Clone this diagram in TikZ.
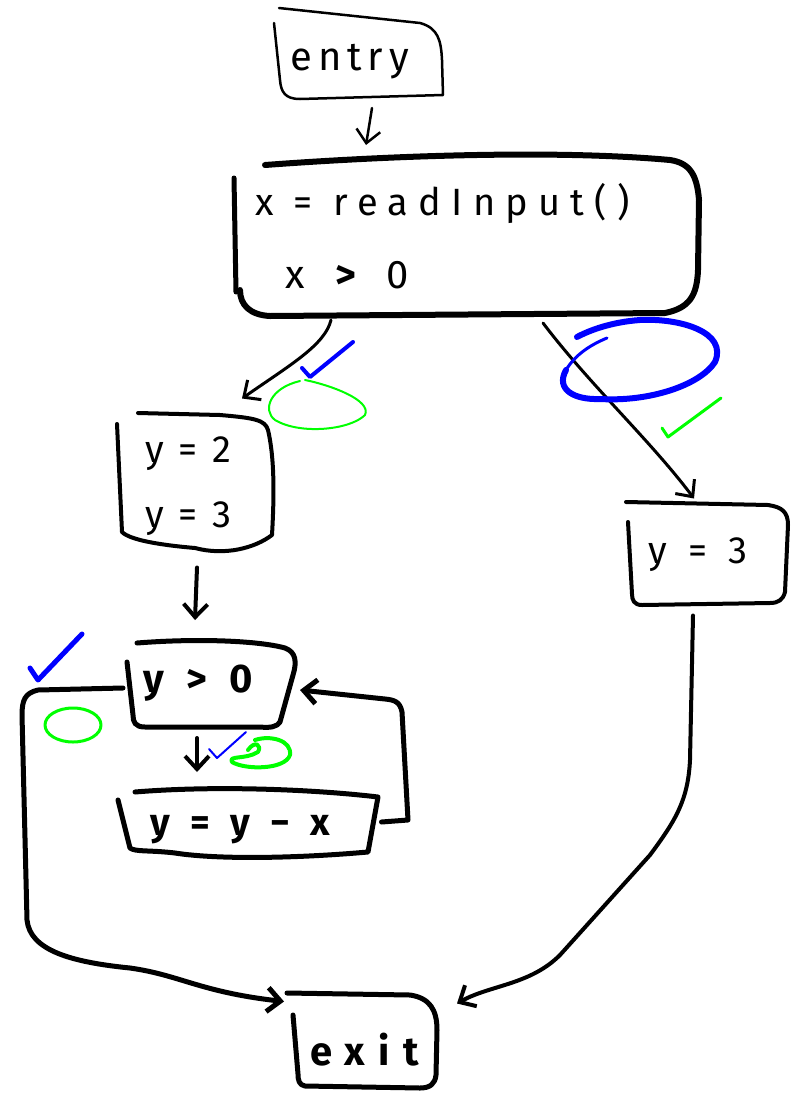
\documentclass[tikz,border=0pt]{standalone}
\usepackage{fontspec}
\setmainfont{Fira Sans}
\usetikzlibrary{arrows.meta}
\tikzset{
  pen/.style={draw=black, line width=#1},
  area/.style={draw=none, inner sep=0pt, outer sep=0pt, minimum width=#1},
  hand/.style={inner sep=0pt, anchor=base west, font=\fontsize{#1}{#1}\selectfont},
  conn/.style={draw=black, line width=#1, -{Straight Barb[length=13pt,width=24pt,line width=#1]}},
  ok/.style={draw=blue, line width=#1},
  mark/.style={draw=green, line width=#1},
}
\begin{document}
\begin{tikzpicture}[x=1pt, y=-1pt, line cap=round, line join=round]
\useasboundingbox (0,0) rectangle (792,1098);

% ---- block areas (anchors for the connectors)
\node[area=168, minimum height=92]  (entry) at (359,54)  {};
\node[area=468, minimum height=158] (cond)  at (466,239) {};
\node[area=160, minimum height=135] (thenb) at (195,478) {};
\node[area=162, minimum height=103] (elseb) at (709,554) {};
\node[area=170, minimum height=88]  (loop)  at (212,684) {};
\node[area=263, minimum height=68]  (body)  at (248,824) {};
\node[area=150, minimum height=97]  (exit)  at (365,1042) {};

% ---- hand-drawn outlines
\draw[pen=2.5] (279,8) -- (420,23) .. controls (438,28) and (441,40) .. (442,60)
  -- (443,95) -- (300,99) .. controls (285,99) and (281,92) .. (280,80) -- (274,23);

\draw[pen=6] (265,165) .. controls (400,155) and (560,150) .. (670,160)
  .. controls (690,163) and (697,175) .. (699,200) -- (698,270)
  .. controls (697,295) and (690,308) .. (665,313) -- (270,316)
  .. controls (250,315) and (240,305) .. (240,290);
\draw[pen=5] (234,178) -- (236,292);

\draw[pen=4] (138,413) -- (220,415) .. controls (255,418) and (265,420) .. (268,430)
  .. controls (275,460) and (274,500) .. (272,535)
  .. controls (255,548) and (225,556) .. (195,548)
  .. controls (160,545) and (130,540) .. (122,532) -- (117,424);

\draw[pen=4] (626,502) -- (768,505) .. controls (782,507) and (788,512) .. (788,525)
  -- (785,592) .. controls (783,600) and (778,603) .. (770,603) -- (642,605)
  .. controls (634,605) and (632,600) .. (632,594) -- (628,522);

\draw[pen=5] (137,643) .. controls (200,638) and (260,641) .. (285,648)
  .. controls (296,652) and (297,662) .. (293,675) -- (280,722)
  .. controls (277,727) and (270,728) .. (260,727) -- (145,727)
  .. controls (135,727) and (133,722) .. (133,715) -- (127,662);

\draw[pen=5] (135,792) .. controls (220,785) and (320,790) .. (378,797)
  -- (368,852) .. controls (300,858) and (220,860) .. (175,853)
  .. controls (150,850) and (135,852) .. (130,848) -- (118,800);

\draw[pen=5] (287,993) -- (410,995) .. controls (430,998) and (437,1010) .. (437,1030)
  -- (436,1075) .. controls (435,1084) and (430,1088) .. (420,1088) -- (305,1086)
  .. controls (299,1085) and (298,1080) .. (298,1074) -- (293,1015);

% ---- texts
\node[hand=40] (tEntry) at (290,70) {\addfontfeature{LetterSpace=15}entry};
\node[hand=38] (tRead)  at (255,215) {\addfontfeature{LetterSpace=27}x = readInput()};
\node[hand=40] (tTest)  at (285,288) {\addfontfeature{LetterSpace=25}x \textbf{>} 0};
\node[hand=38] (tY2)    at (145,462) {\addfontfeature{LetterSpace=12}y = 2};
\node[hand=38] (tY3)    at (145,527) {\addfontfeature{LetterSpace=12}y = 3};
\node[hand=38] (tY3b)   at (648,563) {\addfontfeature{LetterSpace=30}y = 3};
\node[hand=40] (tLoop)  at (143,692) {\bfseries\addfontfeature{LetterSpace=32}y > 0};
\node[hand=38] (tBody)  at (150,835) {\bfseries\addfontfeature{LetterSpace=30}y = y − x};
\node[hand=40] (tExit)  at (310,1065) {\bfseries\addfontfeature{LetterSpace=33}exit};

% ---- connectors
\draw[conn=2.5] ([shift={(13,8)}]entry.south) -- ([shift={(-100,-15)}]cond.north);
\draw[conn=3] ([shift={(-135,2)}]cond.south) .. controls (325,345) and (290,365)
  .. ([shift={(47,-12)}]thenb.north);
\draw[conn=3] ([shift={(77,5)}]cond.south) .. controls (590,385) and (650,440)
  .. ([shift={(-15,-4)}]elseb.north);
\draw[conn=4] ([shift={(2,22)}]thenb.south) -- ([shift={(-17,-20)}]loop.north);
\draw[conn=4] ([shift={(-15,10)}]loop.south) -- ([shift={(-51,-18)}]body.north);
\draw[conn=5] ([shift={(2,-2)}]body.east) -- (408,820) -- (402,712)
  .. controls (400,702) and (395,700) .. (385,699) -- ([shift={(3,6)}]loop.east);
\draw[conn=5] ([shift={(-4,4)}]loop.west) -- (38,690)
  .. controls (25,693) and (22,700) .. (22,715) -- (27,920)
  .. controls (30,950) and (70,962) .. (130,968)
  .. controls (180,975) and (200,992) .. ([shift={(-6,8)}]exit.north west);
\draw[conn=4] ([shift={(-16,10)}]elseb.south) -- (690,760)
  .. controls (688,800) and (676,820) .. (650,855)
  -- (560,955) .. controls (530,985) and (490,985) .. ([shift={(17,10)}]exit.north east);

% ---- review marks
\draw[ok=4] (302,368) -- (310,377) -- (353,342);
\draw[mark=2] (300,381) .. controls (270,388) and (262,410) .. (275,420)
  .. controls (300,435) and (350,430) .. (365,415)
  .. controls (372,400) and (330,385) .. (305,380);
\draw[ok=3] (607,338) .. controls (590,345) and (575,355) .. (566,370);
\draw[ok=6] (566,370) .. controls (555,390) and (575,400) .. (600,399)
  .. controls (650,402) and (700,385) .. (715,362)
  .. controls (728,332) and (680,318) .. (640,320)
  .. controls (612,322) and (590,330) .. (577,337);
\draw[mark=3] (662,428) -- (668,437) -- (721,398);
\draw[ok=5] (30,668) -- (38,680) -- (82,634);
\draw[mark=3] (73,725) ellipse[x radius=28, y radius=17];
\draw[ok=2] (209,749) -- (217,758) -- (246,732);
\draw[mark=4] (248,750) .. controls (255,740) and (262,745) .. (258,752)
  .. controls (245,760) and (228,755) .. (232,762)
  .. controls (245,770) and (285,770) .. (290,755)
  .. controls (292,740) and (270,735) .. (255,740);
\end{tikzpicture}
\end{document}
